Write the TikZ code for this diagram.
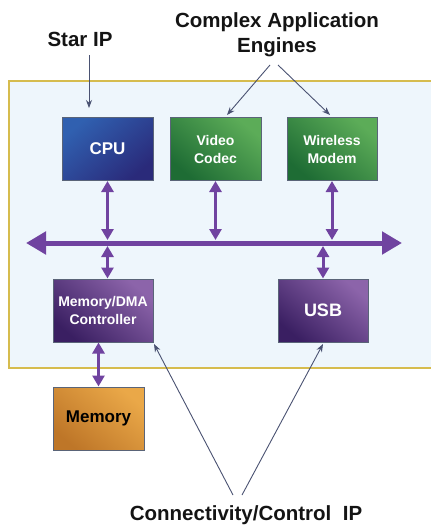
\documentclass[tikz,border=0pt]{standalone}
\usepackage{fontspec}
\setmainfont{Liberation Sans}
\usetikzlibrary{arrows.meta}

\definecolor{panelfill}{HTML}{EEF6FC}
\definecolor{panelline}{HTML}{D6BC4E}
\definecolor{boxline}{HTML}{5A6478}
\definecolor{busclr}{HTML}{7043A0}
\definecolor{pointer}{HTML}{4A5272}
\definecolor{cpuA}{HTML}{3060B0}
\definecolor{cpuB}{HTML}{2A2A7A}
\definecolor{grnA}{HTML}{5CAC58}
\definecolor{grnB}{HTML}{1E6C34}
\definecolor{purA}{HTML}{8C64AA}
\definecolor{purB}{HTML}{3A1F62}
\definecolor{orgA}{HTML}{EAA848}
\definecolor{orgB}{HTML}{BE7628}

\tikzset{
  block/.style={draw=boxline, line width=1pt, minimum height=63pt, align=center,
    text=white, inner sep=2pt},
  small/.style={font=\bfseries\fontsize{14}{18}\selectfont},
  big/.style={font=\bfseries\fontsize{17}{20}\selectfont},
  bluebox/.style={block, top color=cpuA, bottom color=cpuB, shading angle=40},
  greenbox/.style={block, top color=grnA, bottom color=grnB, shading angle=-40},
  purplebox/.style={block, top color=purA, bottom color=purB, shading angle=-40},
  orangebox/.style={block, top color=orgA, bottom color=orgB, shading angle=-40, text=black},
  caption/.style={font=\bfseries\fontsize{20.5}{25}\selectfont, align=center, text=black!92},
  link/.style={busclr, line width=3pt, {Triangle[length=11pt,width=12pt]}-{Triangle[length=11pt,width=12pt]}},
  pointto/.style={pointer, line width=0.9pt, -{Stealth[length=8pt,width=6pt]}}
}

\begin{document}
\begin{tikzpicture}[x=1pt, y=-1pt]
\useasboundingbox (0,0) rectangle (431,525);

% chip outline
\fill[panelfill] (9,81) rectangle (431,368);
\draw[panelline, line width=1.6pt] (431,81) -- (9,81) -- (9,368) -- (431,368);

% functional blocks
\node[bluebox,   big,   minimum width=91pt]  (cpu)      at (107.5,149)  {CPU};
\node[greenbox,  small, minimum width=91pt]  (video)    at (215.5,149)  {Video\\Codec};
\node[greenbox,  small, minimum width=90pt]  (wireless) at (332,149)    {Wireless\\Modem};
\node[purplebox, small, minimum width=100pt] (memdma)   at (103,310.5)  {Memory/DMA\\Controller};
\node[purplebox, big,   minimum width=90pt]  (usb)      at (323,310.5)  {\fontsize{18}{20}\selectfont USB};
\node[orangebox, big,   minimum width=91pt]  (mem)      at (98.5,418.5) {Memory};

% system bus
\coordinate (busL) at (26,243);
\coordinate (busR) at (402,243);
\coordinate (busTop) at (0,240);
\coordinate (busBot) at (0,246);
\draw[busclr, line width=5pt, {Triangle[length=20pt,width=22pt]}-{Triangle[length=20pt,width=22pt]}] (busL) -- (busR);

% bus connections
\draw[link] (cpu.south) -- (cpu.south |- busTop);
\draw[link] (video.south) -- (video.south |- busTop);
\draw[link] (wireless.south) -- (wireless.south |- busTop);
\draw[link] (memdma.north -| cpu.south) -- (cpu.south |- busBot);
\draw[link] (usb.north) -- (usb.north |- busBot);
\draw[link] (mem.north) -- (mem.north |- memdma.south);

% captions
\node[caption] (star) at (80,39) {Star IP};
\node[caption] (cae)  at (277,35) {Complex Application\\Engines};
\node[caption] (conn) at (246,515) {Connectivity/Control\ \ IP};

% pointers
\coordinate (starFrom) at (89,55);
\coordinate (starTo)   at (89,108);
\coordinate (caeL)     at (270,65);
\coordinate (caeR)     at (278,65);
\coordinate (videoTo)  at (227,115);
\coordinate (wlTo)     at (330,115);
\coordinate (connL)    at (233,495);
\coordinate (connR)    at (242,495);
\coordinate (dmaTo)    at (154,344);
\coordinate (usbTo)    at (323,344);

\draw[pointto] (starFrom) -- (starTo);
\draw[pointto] (caeL) -- (videoTo);
\draw[pointto] (caeR) -- (wlTo);
\draw[pointto] (connL) -- (dmaTo);
\draw[pointto] (connR) -- (usbTo);
\end{tikzpicture}
\end{document}
